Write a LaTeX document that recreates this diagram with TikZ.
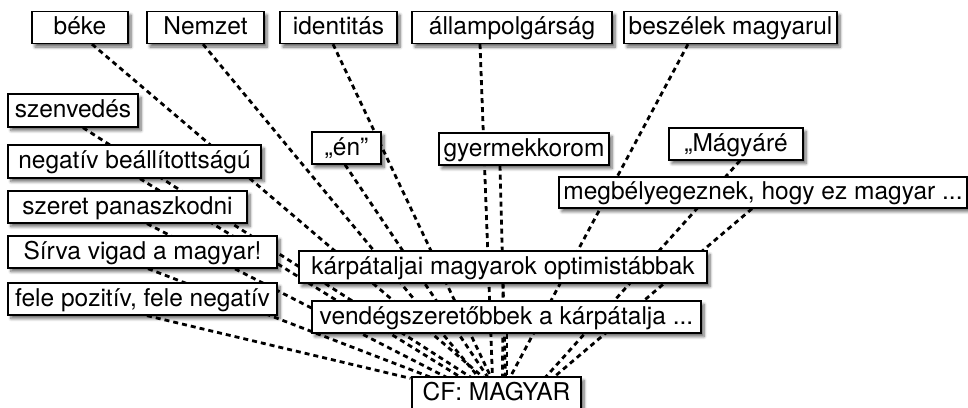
\documentclass[tikz,border=0pt]{standalone}
\usepackage{fontspec}
\setmainfont{TeX Gyre Heros}
\usetikzlibrary{shadows.blur}
\pgfdeclarelayer{bg}
\pgfsetlayers{bg,main}
\begin{document}
\begin{tikzpicture}[x=1pt,y=1pt,
  box/.style={draw=black, line width=1.3pt, fill=white, inner sep=0pt,
    minimum height=32pt, text height=19pt, text depth=4.5pt,
    font=\fontsize{24.5}{29}\selectfont,
    blur shadow={shadow xshift=3pt, shadow yshift=-3.5pt, shadow blur steps=6, shadow blur radius=3pt, shadow opacity=60}},
  link/.style={line width=2.8pt, dash pattern=on 5pt off 4pt}]
\useasboundingbox (0,0) rectangle (968,-407);
% top row
\node[box, minimum width=96pt]  (beke)   at (80,-27.5)   {béke};
\node[box, minimum width=117pt] (nemzet) at (205.5,-27.5) {Nemzet};
\node[box, minimum width=117pt] (ident)  at (338.5,-27.5) {identitás};
\node[box, minimum width=200pt] (allam)  at (512,-27.5)  {állampolgárság};
\node[box, minimum width=213pt] (besz)   at (730.5,-27.5) {beszélek magyarul};
% middle
\node[box, minimum width=130pt, minimum height=33pt] (szenv) at (73,-110.5) {szenvedés};
\node[box, minimum width=69pt]  (en)     at (346.5,-148) {„én”};
\node[box, minimum width=170pt] (gyer)   at (524,-149)   {gyermekkorom};
\node[box, minimum width=134pt] (magy)   at (736,-144)   {„Mágyáré};
\node[box, minimum width=408pt, minimum height=31pt] (megb) at (763,-192.5) {megbélyegeznek, hogy ez magyar ...};
% left column
\node[box, minimum width=253pt, minimum height=33pt] (neg) at (134.5,-161.5) {negatív beállítottságú};
\node[box, minimum width=239pt] (szeret) at (127.5,-207) {szeret panaszkodni};
\node[box, minimum width=269pt] (sirva)  at (142.5,-252) {Sírva vigad a magyar!};
\node[box, minimum width=269pt] (fele)   at (142.5,-299) {fele pozitív, fele negatív};
% lower
\node[box, minimum width=408pt] (karp)   at (503,-267)   {kárpátaljai magyarok optimistábbak};
\node[box, minimum width=389pt] (vend)   at (506.5,-317) {vendégszeretőbbek a kárpátalja ...};
\node[box, minimum width=169pt] (cf)     at (496.5,-393) {CF: MAGYAR};
\begin{pgfonlayer}{bg}
\draw[link] ([xshift=12pt]beke.south)    -- ([xshift=-12pt,yshift=-2pt]cf.north);
\draw[link] ([xshift=-2.5pt]nemzet.south) -- ([xshift=-17pt,yshift=-2pt]cf.north);
\draw[link] ([xshift=-5.5pt]ident.south) -- ([xshift=-5pt,yshift=-2pt]cf.north);
\draw[link] ([xshift=-32pt]allam.south)  -- ([xshift=-4pt,yshift=-2pt]cf.north);
\draw[link] ([xshift=-42.5pt]besz.south) -- ([xshift=13pt,yshift=-2pt]cf.north);
\draw[link] ([xshift=10pt]szenv.south)   -- ([xshift=-24pt,yshift=-2pt]cf.north);
\draw[link] ([xshift=-1.5pt]en.south)    -- ([xshift=-8pt,yshift=-2pt]cf.north);
\draw[link] ([xshift=-24pt]gyer.south)   -- ([xshift=9pt,yshift=-2pt]cf.north);
\draw[link] ([xshift=4pt]magy.south)     -- ([xshift=48pt,yshift=-2pt]cf.north);
\draw[link] ([xshift=-11pt]megb.south)   -- ([xshift=56pt,yshift=-2pt]cf.north);
\draw[link] ([xshift=5.5pt]neg.south)    -- ([xshift=-34pt,yshift=-2pt]cf.north);
\draw[link] ([xshift=19.5pt]szeret.south) -- ([xshift=-48pt,yshift=-2pt]cf.north);
\draw[link] ([xshift=5.5pt]sirva.south)  -- ([xshift=-63pt,yshift=-2pt]cf.north);
\draw[link] ([xshift=4.5pt]fele.south)   -- ([xshift=-86pt,yshift=-2pt]cf.north);
\draw[link] (karp.south)                 -- ([xshift=6pt,yshift=-2pt]cf.north);
\draw[link] ([xshift=0.5pt]vend.south)   -- ([xshift=10.5pt,yshift=-2pt]cf.north);
\end{pgfonlayer}
\end{tikzpicture}
\end{document}
